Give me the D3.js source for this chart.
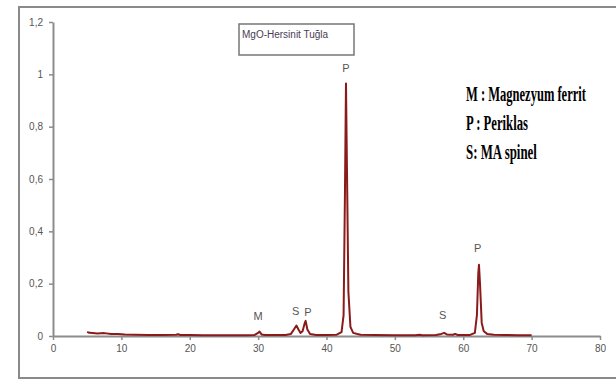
<!DOCTYPE html>
<html>
<head>
<meta charset="utf-8">
<script src="https://cdn.jsdelivr.net/npm/d3@7"></script>
<style>
	body { margin: 0; background: #fff; }
	svg { display: block; }
</style>
</head>
<body>
<div id="chart-area"></div>
<script>
// XRD pattern of MgO-hercynite brick
let twoTheta = [5.0, 5.3, 5.8, 6.5, 7.5, 8.5, 9.5, 10.5, 12, 14, 16, 18, 18.3, 18.6, 20, 22, 24, 26, 28, 29.5,
	30.0, 30.2, 30.5, 31, 32.5, 34, 34.8, 35.3, 35.6, 35.9, 36.2, 36.5, 36.8, 36.95, 37.2, 37.6, 38.5, 40, 41.5,
	42.2, 42.5, 42.7, 42.85, 43.0, 43.2, 43.5, 43.9, 44.5, 45, 47, 50, 53, 53.6, 54, 56, 56.8, 57.2, 57.6, 58.5,
	58.8, 59.2, 61, 61.7, 62.0, 62.2, 62.3, 62.45, 62.7, 63.0, 63.5, 64.5, 66, 68, 70];
let intensity = [0.016, 0.012, 0.011, 0.010, 0.011, 0.008, 0.008, 0.006, 0.005, 0.004, 0.004, 0.005, 0.007, 0.004, 0.004, 0.003, 0.003, 0.003, 0.003, 0.004,
	0.012, 0.017, 0.006, 0.004, 0.004, 0.004, 0.008, 0.028, 0.040, 0.025, 0.012, 0.018, 0.048, 0.058, 0.025, 0.008, 0.004, 0.004, 0.005,
	0.015, 0.08, 0.55, 0.965, 0.62, 0.17, 0.035, 0.012, 0.008, 0.005, 0.004, 0.003, 0.003, 0.005, 0.003, 0.004, 0.008, 0.012, 0.006, 0.005,
	0.008, 0.004, 0.004, 0.012, 0.08, 0.24, 0.272, 0.2, 0.05, 0.018, 0.008, 0.005, 0.004, 0.003, 0.003];

// phase labels above the peaks
let peakLetters = ["M", "S", "P", "P", "S", "P"];
let peakPos = [30.0, 35.5, 37.3, 42.85, 57.0, 62.1];
let peakLabelY = [0.06, 0.08, 0.075, 1.01, 0.065, 0.32];

let xTicks = [0, 10, 20, 30, 40, 50, 60, 70, 80];
let yTicks = [0, 0.2, 0.4, 0.6, 0.8, 1, 1.2];

let legendLines = ["M : Magnezyum ferrit", "P : Periklas", "S: MA spinel"];
let legendWidths = [120, 62, 71];
let chartTitle = "MgO-Hersinit Tuğla";

let data = twoTheta.map((t, i) => ({x: t, y: intensity[i]}));

let svg = d3.select("#chart-area").append("svg")
	.attr("width", 616)
	.attr("height", 381);

// outer frame (right edge is cut off in the original)
svg.append("rect")
	.attr("x", 19).attr("y", 7)
	.attr("width", 640).attr("height", 371)
	.attr("fill", "#fff")
	.attr("stroke", "#8a8a8a")
	.attr("stroke-width", 2);

let xScale = d3.scaleLinear().domain([0, 80]).range([53, 600]);
let yScale = d3.scaleLinear().domain([0, 1.2]).range([336, 22]);

let fmt = d => String(d).replace(".", ",");

let xAxisGroup = svg.append("g")
	.attr("transform", "translate(0," + yScale(0) + ")")
	.call(d3.axisBottom(xScale).tickValues(xTicks).tickSize(4).tickSizeOuter(0).tickPadding(5));

let yAxisGroup = svg.append("g")
	.attr("transform", "translate(" + xScale(0) + ",0)")
	.call(d3.axisLeft(yScale).tickValues(yTicks).tickFormat(fmt).tickSize(4).tickSizeOuter(0).tickPadding(6));

[xAxisGroup, yAxisGroup].forEach(g => {
	g.select(".domain").attr("stroke", "#8c8c8c").attr("stroke-width", 2);
	g.selectAll(".tick line").attr("stroke", "#8c8c8c").attr("stroke-width", 1.5);
	g.selectAll(".tick text")
		.attr("fill", "#555")
		.style("font-family", "Arial, 'Liberation Sans', sans-serif")
		.style("font-size", "10px");
});

// title box
svg.append("rect")
	.attr("x", 239).attr("y", 24)
	.attr("width", 115).attr("height", 31)
	.attr("fill", "#fff")
	.attr("stroke", "#777")
	.attr("stroke-width", 1.5);

svg.append("text")
	.attr("x", 242).attr("y", 38)
	.attr("fill", "#4a3d55")
	.style("font-family", "Arial, 'Liberation Sans', sans-serif")
	.style("font-size", "10px")
	.text(chartTitle);

// diffraction line
let line = d3.line()
	.x(d => xScale(d.x))
	.y(d => yScale(d.y));

svg.append("path")
	.datum(data)
	.attr("d", line)
	.attr("fill", "none")
	.attr("stroke", "#8b1a1a")
	.attr("stroke-width", 2)
	.attr("stroke-linejoin", "round");

svg.selectAll(".peak-label")
	.data(peakLetters)
	.enter()
	.append("text")
	.attr("class", "peak-label")
	.attr("x", (d, i) => xScale(peakPos[i]))
	.attr("y", (d, i) => yScale(peakLabelY[i]))
	.attr("text-anchor", "middle")
	.attr("fill", "#555")
	.style("font-family", "Arial, 'Liberation Sans', sans-serif")
	.style("font-size", "11px")
	.text(d => d);

// phase legend - condensed serif, squeezed horizontally to the widths in the picture
svg.selectAll(".legend-text")
	.data(legendLines)
	.enter()
	.append("text")
	.attr("class", "legend-text")
	.attr("x", 0)
	.attr("y", 0)
	.attr("fill", "#000")
	.style("font-family", "'Liberation Serif', 'Times New Roman', serif")
	.style("font-weight", "bold")
	.style("font-size", "21px")
	.text(d => d)
	.each(function(d, i) {
		let natural = this.getComputedTextLength();
		let sx = legendWidths[i] / natural;
		d3.select(this).attr("transform", "translate(466," + (101 + i * 29) + ") scale(" + sx + ",1)");
	});
</script>
</body>
</html>
